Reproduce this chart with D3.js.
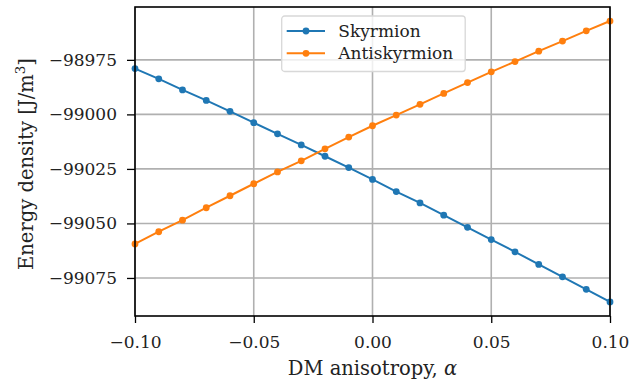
<!DOCTYPE html>
<html>
<head>
<meta charset="utf-8">
<script src="https://cdn.jsdelivr.net/npm/d3@7"></script>
<style>
  body { margin: 0; background: #fff; }
  text { font-family: "DejaVu Serif", "Liberation Serif", serif; fill: #222; }
</style>
</head>
<body>
<svg id="root" width="643" height="384"></svg>
<script>
// DM anisotropy values
const alphas = [-0.10, -0.09, -0.08, -0.07, -0.06, -0.05, -0.04, -0.03, -0.02, -0.01,
  0.00, 0.01, 0.02, 0.03, 0.04, 0.05, 0.06, 0.07, 0.08, 0.09, 0.10];

const skyrmion = [-98979.0, -98983.7, -98988.8, -98993.6, -98998.6, -99003.8, -99008.9,
  -99014.0, -99019.2, -99024.4, -99029.8, -99035.4, -99040.6, -99046.2, -99051.8,
  -99057.4, -99063.0, -99068.8, -99074.5, -99080.2, -99086.0];

const antiskyrmion = [-99059.4, -99053.8, -99048.5, -99042.8, -99037.3, -99031.8, -99026.4,
  -99021.3, -99015.8, -99010.4, -99005.2, -99000.3, -98995.4, -98990.4, -98985.4,
  -98980.5, -98975.8, -98971.0, -98966.4, -98961.7, -98957.2];

const xTicks = [-0.10, -0.05, 0.00, 0.05, 0.10];
const yTicks = [-98975, -99000, -99025, -99050, -99075];

const seriesNames = ["Skyrmion", "Antiskyrmion"];
const colors = ["#1f77b4", "#ff7f0e"];

(function () {
  const svg = d3.select("#root");
  const margin = {left: 135, right: 33, top: 7, bottom: 68};
  const width = 643 - margin.left - margin.right;
  const height = 384 - margin.top - margin.bottom;
  const fs = 17;
  const labelFs = 19.5;

  const all = skyrmion.concat(antiskyrmion);
  const yMin = d3.min(all), yMax = d3.max(all);
  const pad = (yMax - yMin) * 0.05;

  const x = d3.scaleLinear().domain([-0.1, 0.1]).range([0, width]);
  const y = d3.scaleLinear().domain([yMin - pad, yMax + pad]).range([height, 0]);

  const g = svg.append("g").attr("transform", `translate(${margin.left},${margin.top})`);

  // grid
  g.append("g").selectAll("line").data(xTicks).enter().append("line")
    .attr("x1", d => x(d)).attr("x2", d => x(d))
    .attr("y1", 0).attr("y2", height)
    .attr("stroke", "#b0b0b0").attr("stroke-width", 1.6);
  g.append("g").selectAll("line").data(yTicks).enter().append("line")
    .attr("x1", 0).attr("x2", width)
    .attr("y1", d => y(d)).attr("y2", d => y(d))
    .attr("stroke", "#b0b0b0").attr("stroke-width", 1.6);

  const fmtX = d => (d < 0 ? "\u2212" : "") + Math.abs(d).toFixed(2);
  const fmtY = d => (d < 0 ? "\u2212" : "") + Math.abs(d);

  const xAxis = g.append("g").attr("transform", `translate(0,${height})`)
    .call(d3.axisBottom(x).tickValues(xTicks).tickFormat(fmtX).tickSize(7).tickPadding(13));
  const yAxis = g.append("g")
    .call(d3.axisLeft(y).tickValues(yTicks).tickFormat(fmtY).tickSize(8).tickPadding(10));
  for (const ax of [xAxis, yAxis]) {
    ax.select(".domain").remove();
    ax.selectAll(".tick line").attr("stroke", "#000").attr("stroke-width", 1.3);
    ax.selectAll(".tick text").attr("font-size", fs).attr("fill", "#222")
      .style("font-family", "'DejaVu Serif', serif");
  }

  // series
  const line = d3.line().x((d, i) => x(alphas[i])).y(d => y(d));
  [skyrmion, antiskyrmion].forEach((vals, k) => {
    g.append("path").datum(vals)
      .attr("d", line).attr("fill", "none")
      .attr("stroke", colors[k]).attr("stroke-width", 2);
    g.append("g").selectAll("circle").data(vals).enter().append("circle")
      .attr("cx", (d, i) => x(alphas[i])).attr("cy", d => y(d))
      .attr("r", 3.4).attr("fill", colors[k]);
  });

  // frame
  g.append("rect").attr("width", width).attr("height", height)
    .attr("fill", "none").attr("stroke", "#000").attr("stroke-width", 1.6);

  // legend
  const lg = g.append("g").attr("transform", `translate(${281.7 - margin.left},${16 - margin.top})`);
  lg.append("rect").attr("width", 183.5).attr("height", 55.5).attr("rx", 3)
    .attr("fill", "#fff").attr("fill-opacity", 0.8)
    .attr("stroke", "#d8d8d8").attr("stroke-width", 1.3);
  seriesNames.forEach((name, k) => {
    const yy = 15 + k * 22.3;
    lg.append("line").attr("x1", 5).attr("x2", 43.3).attr("y1", yy).attr("y2", yy)
      .attr("stroke", colors[k]).attr("stroke-width", 2);
    lg.append("circle").attr("cx", 24.3).attr("cy", yy).attr("r", 3.4).attr("fill", colors[k]);
    lg.append("text").attr("x", 56.6).attr("y", yy).attr("dy", "0.35em")
      .attr("font-size", fs).text(name);
  });

  // axis labels
  const xl = svg.append("text")
    .attr("x", margin.left + width / 2).attr("y", 375)
    .attr("text-anchor", "middle").attr("font-size", labelFs);
  xl.append("tspan").text("DM anisotropy,  ");
  xl.append("tspan").attr("font-style", "italic").text("\u03b1");

  const yl = svg.append("text")
    .attr("transform", "translate(33,164) rotate(-90)")
    .attr("text-anchor", "middle").attr("font-size", labelFs);
  yl.append("tspan").text("Energy density [J/m");
  yl.append("tspan").attr("dy", -8).attr("font-size", 13.5).text("3");
  yl.append("tspan").attr("dy", 8).text("]");
})();
</script>
</body>
</html>
